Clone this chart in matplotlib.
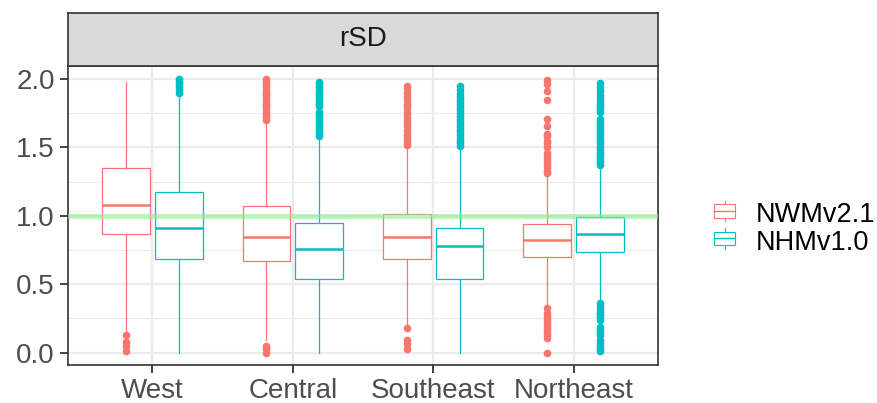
import numpy as np
import matplotlib
matplotlib.use('Agg')
import matplotlib.pyplot as plt
from matplotlib.patches import Rectangle, Patch
from matplotlib.lines import Line2D
from matplotlib.legend_handler import HandlerBase

plt.rcParams['font.family'] = ['Liberation Sans', 'DejaVu Sans']

regions = ['West', 'Central', 'Southeast', 'Northeast']
models = ['NWMv2.1', 'NHMv1.0']
colors = ['#F8766D', '#00BFC4']

# box statistics
nwm_q1 = [0.870, 0.669, 0.686, 0.700]
nwm_med = [1.076, 0.843, 0.848, 0.823]
nwm_q3 = [1.350, 1.074, 1.015, 0.940]
nwm_lo = [0.160, 0.090, 0.210, 0.340]
nwm_hi = [1.980, 1.670, 1.500, 1.290]

nhm_q1 = [0.686, 0.537, 0.537, 0.735]
nhm_med = [0.914, 0.755, 0.780, 0.865]
nhm_q3 = [1.174, 0.948, 0.914, 0.988]
nhm_lo = [0.000, 0.000, 0.000, 0.370]
nhm_hi = [1.890, 1.560, 1.490, 1.350]

nwm_out = [
    [0.13, 0.08, 0.05, 0.01],
    [1.70, 1.72, 1.74, 1.76, 1.78, 1.80, 1.82, 1.84, 1.86, 1.88, 1.90, 1.92,
     1.94, 1.96, 1.98, 2.00, 0.05, 0.03, 0.00],
    [1.52, 1.54, 1.56, 1.58, 1.60, 1.63, 1.66, 1.68, 1.70, 1.72, 1.75, 1.78,
     1.80, 1.82, 1.85, 1.87, 1.90, 1.93, 1.95, 0.18, 0.09, 0.06, 0.03],
    [1.99, 1.96, 1.91, 1.85, 1.71, 1.66, 1.60, 1.58, 1.55, 1.53, 1.50, 1.46,
     1.44, 1.42, 1.40, 1.38, 1.36, 1.33, 1.31, 0.33, 0.29, 0.27, 0.25, 0.23,
     0.21, 0.19, 0.17, 0.15, 0.13, 0.11, 0.00],
]
nhm_out = [
    [1.90, 1.92, 1.94, 1.96, 1.98, 2.00],
    [1.58, 1.60, 1.62, 1.64, 1.66, 1.68, 1.70, 1.72, 1.74, 1.76, 1.80, 1.82,
     1.84, 1.86, 1.88, 1.90, 1.92, 1.94, 1.96, 1.98],
    [1.51, 1.53, 1.55, 1.57, 1.59, 1.61, 1.63, 1.65, 1.67, 1.69, 1.71, 1.73,
     1.75, 1.77, 1.79, 1.81, 1.83, 1.85, 1.87, 1.89, 1.92, 1.95],
    [1.37, 1.39, 1.41, 1.43, 1.45, 1.47, 1.49, 1.51, 1.53, 1.55, 1.57, 1.59,
     1.61, 1.63, 1.65, 1.67, 1.69, 1.71, 1.76, 1.78, 1.80, 1.82, 1.84, 1.86,
     1.88, 1.91, 1.94, 1.97, 0.36, 0.34, 0.32, 0.30, 0.28, 0.26, 0.24, 0.19,
     0.17, 0.15, 0.13, 0.09, 0.07, 0.05, 0.03, 0.01],
]
ref_line = 1.0

groups = [
    (nwm_q1, nwm_med, nwm_q3, nwm_lo, nwm_hi, nwm_out),
    (nhm_q1, nhm_med, nhm_q3, nhm_lo, nhm_hi, nhm_out),
]


class BoxHandler(HandlerBase):
    def create_artists(self, legend, orig, xd, yd, w, h, fontsize, trans):
        c = orig.get_edgecolor()
        cx = xd + w / 2
        r = Rectangle((xd, yd + h * 0.18), w, h * 0.64,
                      facecolor='white', edgecolor=c, lw=0.8, transform=trans)
        wl = Line2D([cx, cx], [yd, yd + h], color=c, lw=0.8,
                    transform=trans)
        ml = Line2D([xd, xd + w], [yd + h / 2, yd + h / 2],
                    color=c, lw=1.0, transform=trans)
        return [wl, r, ml]


fig = plt.figure(figsize=(8.77, 4.03), dpi=100)
ax = fig.add_axes([68 / 877, 1 - 365 / 403, 590 / 877, 299 / 403])
strip = fig.add_axes([68 / 877, 1 - 66 / 403, 590 / 877, 53 / 403])

x = np.arange(1, len(regions) + 1)
offsets = [-0.1875, 0.1875]
for (q1, med, q3, lo, hi, out), c, off in zip(groups, colors, offsets):
    stats = []
    for i in range(len(regions)):
        stats.append(dict(q1=q1[i], med=med[i], q3=q3[i],
                          whislo=lo[i], whishi=hi[i], fliers=out[i]))
    ax.bxp(stats, positions=x + off, widths=0.34, patch_artist=True,
           showcaps=False, manage_ticks=False,
           boxprops=dict(facecolor='white', edgecolor=c, linewidth=0.9),
           medianprops=dict(color=c, linewidth=1.8),
           whiskerprops=dict(color=c, linewidth=0.9),
           flierprops=dict(marker='o', markerfacecolor=c, markeredgecolor=c,
                           markersize=4.5, linestyle='none'))

ax.axhline(ref_line, color='#90EE90', lw=3.5, alpha=0.6, zorder=5)

ax.set_xlim(0.4, 4.6)
ax.set_ylim(-0.09, 2.095)
ax.set_xticks(x)
ax.set_xticklabels(regions)
ax.set_yticks([0, 0.5, 1.0, 1.5, 2.0])
ax.set_yticklabels(['0.0', '0.5', '1.0', '1.5', '2.0'])
ax.set_yticks([0.25, 0.75, 1.25, 1.75], minor=True)
ax.grid(True, which='major', color='#EBEBEB', lw=1.6, zorder=0)
ax.grid(True, which='minor', axis='y', color='#EBEBEB', lw=0.8, zorder=0)
ax.set_axisbelow(True)
ax.tick_params(which='major', length=6, width=1.3, color='#333333',
               labelcolor='#4D4D4D', labelsize=20, pad=3.5)
ax.tick_params(which='minor', length=0)
for s in ax.spines.values():
    s.set_color('#333333')
    s.set_linewidth(1.2)

strip.set_facecolor('#D9D9D9')
strip.set_xticks([])
strip.set_yticks([])
for s in strip.spines.values():
    s.set_color('#333333')
    s.set_linewidth(1.2)
strip.text(0.5, 0.5, 'rSD', ha='center', va='center', fontsize=20,
           color='#1A1A1A', transform=strip.transAxes)

handles = [Patch(facecolor='white', edgecolor=c, label=m)
           for m, c in zip(models, colors)]
fig.legend(handles=handles, handler_map={Patch: BoxHandler()},
           loc='center left', bbox_to_anchor=(714 / 877, 1 - 229 / 403),
           frameon=False, fontsize=19.5, handlelength=0.78, handleheight=0.8,
           handletextpad=0.75, labelspacing=0.05, borderpad=0,
           borderaxespad=0)

fig.savefig('out.png', dpi=100)
